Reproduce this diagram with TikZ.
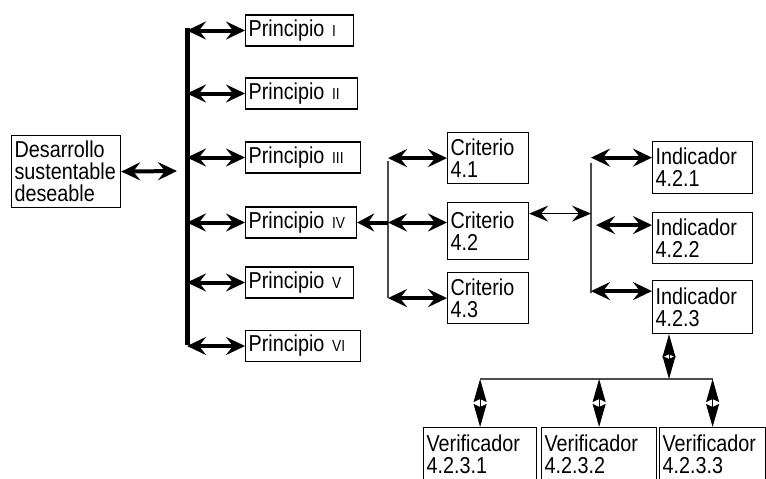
\documentclass[tikz,border=0pt]{standalone}
\usepackage{fontspec}
\setmainfont[FakeStretch=0.86]{Liberation Sans}
\usetikzlibrary{arrows.meta,calc}
\newcommand{\rn}[1]{{\fontsize{16}{16}\selectfont #1}}
\tikzset{
  box/.style={draw, line width=1.2pt, inner xsep=3pt, inner ysep=1pt, align=left,
    font=\fontsize{23}{22}\selectfont, anchor=north west},
  pbox/.style={box, anchor=west, minimum height=31pt},
  bigarrow/.style={line width=4pt, >={Stealth[length=19pt 0,width=18pt 0,inset=7pt 0]}, <->},
  onearrow/.style={line width=4pt, >={Stealth[length=17pt 0,width=18pt 0,inset=6pt 0]}, ->},
  midarrow/.style={line width=1.5pt, >={Stealth[length=19pt 0,width=16pt 0,inset=7pt 0]}, <->},
  varrow/.style={line width=1pt, >={Stealth[length=23pt 0,width=13pt 0,inset=3pt 0]}, <->},
  thinline/.style={line width=1.5pt, draw=black!70},
  barline/.style={line width=5pt}
}
\begin{document}
\begin{tikzpicture}[x=1pt,y=-1pt]
\useasboundingbox (0,0) rectangle (766,479);
\clip (0,0) rectangle (766,479);

% root
\node[box, text width=103pt, minimum height=72pt] (d) at (11,135) {Desarrollo\\sustentable\\deseable};

% principios
\node[pbox, text width=102pt] (p1) at (245,30.5) {Principio \rn{I}};
\node[pbox, text width=106pt] (p2) at (245,93.5) {Principio \rn{II}};
\node[pbox, text width=109pt] (p3) at (245,157.5) {Principio \rn{III}};
\node[pbox, text width=105pt] (p4) at (245,222.5) {Principio \rn{IV}};
\node[pbox, text width=102pt] (p5) at (245,282.5) {Principio \rn{V}};
\node[pbox, text width=109pt] (p6) at (245,346) {Principio \rn{VI}};

% criterios
\node[box, text width=75pt, minimum height=51pt] (c41) at (447,132) {Criterio\\4.1};
\node[box, text width=75pt, minimum height=57pt] (c42) at (447,202) {Criterio\\4.2};
\node[box, text width=75pt, minimum height=51pt] (c43) at (447,272) {Criterio\\4.3};

% indicadores
\node[box, text width=94pt, minimum height=52pt] (i1) at (652,141) {Indicador\\4.2.1};
\node[box, text width=94pt, minimum height=51pt] (i2) at (652,212) {Indicador\\4.2.2};
\node[box, text width=94pt, minimum height=53pt] (i3) at (652,280) {Indicador\\4.2.3};

% verificadores
\node[box, text width=107pt, minimum height=54pt] (v1) at (423,427) {Verificador\\4.2.3.1};
\node[box, text width=109pt, minimum height=54pt] (v2) at (541,427) {Verificador\\4.2.3.2};
\node[box, text width=100pt, minimum height=54pt] (v3) at (659,427) {Verificador\\4.2.3.3};

% main bar
\coordinate (bartop) at (187,28);
\coordinate (barbot) at (187,345);
\coordinate (dj) at (177,171);
\draw[barline] (bartop) -- (barbot);
\draw[bigarrow] (d.east) -- (dj);
\foreach \p in {p1,p2,p3,p4,p5,p6}{
  \draw[bigarrow] (bartop |- \p.west) -- (\p.west);
}

% criterio junction
\coordinate (jctop) at (388,161);
\draw[thinline] (jctop) -- (jctop |- c43.west);
\draw[onearrow] (jctop |- p4.east) -- (p4.east);
\draw[bigarrow] (jctop |- c41.west) -- (c41.west);
\draw[bigarrow] (jctop |- p4.east) -- (c42.west |- p4.east);
\draw[bigarrow] (jctop |- c43.west) -- (c43.west);

% indicador junction
\coordinate (jitop) at (591,163);
\coordinate (jibot) at (591,293);
\coordinate (a1) at ([yshift=10pt]i1.west);
\coordinate (a2) at ([yshift=13pt]i2.west);
\coordinate (a3) at ([yshift=16pt]i3.west);
\coordinate (b1) at ([yshift=17.5pt]c42.east);
\draw[thinline] (jitop) -- (jibot);
\draw[midarrow] (b1) -- (jitop |- b1);
\draw[bigarrow] (jitop |- a1) -- (a1);
\draw[bigarrow] ([xshift=5pt]jitop |- a2) -- (a2);
\draw[bigarrow] (jitop |- a3) -- (a3);

% verificador junction
\coordinate (vtop) at ([xshift=17pt]i3.south west);
\coordinate (hy) at (669,379);
\draw[thinline] (v1.north |- hy) -- (v3.north |- hy);
\draw[varrow] (vtop) -- (hy);
\foreach \v in {v1,v2,v3}{
  \draw[varrow] (\v.north |- hy) -- (\v.north);
}
\end{tikzpicture}
\end{document}
